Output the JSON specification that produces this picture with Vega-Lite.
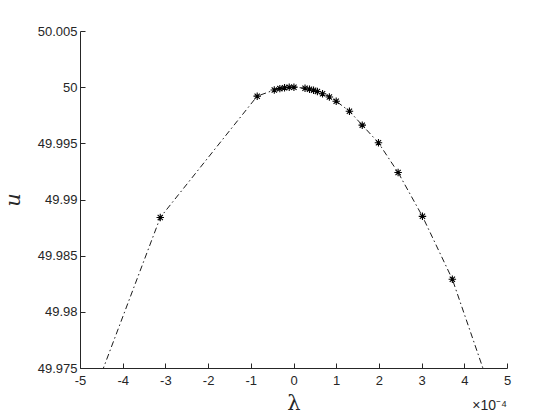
{
  "$schema": "https://vega.github.io/schema/vega-lite/v6.json",
  "width": 427,
  "height": 337,
  "autosize": {"type": "none"},
  "padding": {"left": 80, "top": 31, "right": 53, "bottom": 52},
  "background": "white",
  "config": {
    "view": {"stroke": null},
    "axis": {
      "grid": false,
      "domainColor": "#262626",
      "tickColor": "#262626",
      "labelColor": "#262626",
      "labelFont": "Liberation Sans",
      "labelFontSize": 13,
      "labelFlush": false,
      "labelOverlap": false,
      "titleColor": "#262626",
      "titleFont": "DejaVu Serif",
      "titleFontSize": 21,
      "titleFontWeight": "normal",
      "tickSize": -5,
      "domainWidth": 1,
      "tickWidth": 1
    }
  },
  "title": {
    "text": "×10⁻⁴",
    "orient": "bottom",
    "anchor": "end",
    "frame": "group",
    "font": "Liberation Sans",
    "fontSize": 14,
    "fontWeight": "normal",
    "color": "#262626",
    "dy": -18
  },
  "data": {
    "values": [
      {"lambda": -0.00046, "u": 49.9735},
      {"lambda": -0.000312, "u": 49.9884},
      {"lambda": -0.000085, "u": 49.9992},
      {"lambda": -0.000045, "u": 49.99975},
      {"lambda": -0.000032, "u": 49.99987},
      {"lambda": -0.000021, "u": 49.99995},
      {"lambda": -0.00001, "u": 49.99999},
      {"lambda": 0.000001, "u": 50.0},
      {"lambda": 0.000027, "u": 49.99991},
      {"lambda": 0.0000375, "u": 49.99982},
      {"lambda": 0.000047, "u": 49.99972},
      {"lambda": 0.000056, "u": 49.99961},
      {"lambda": 0.000068, "u": 49.99942},
      {"lambda": 0.000084, "u": 49.99912},
      {"lambda": 0.0001, "u": 49.99875},
      {"lambda": 0.000131, "u": 49.99786},
      {"lambda": 0.000161, "u": 49.99662},
      {"lambda": 0.000199, "u": 49.99505},
      {"lambda": 0.000245, "u": 49.9924},
      {"lambda": 0.000302, "u": 49.9885},
      {"lambda": 0.000372, "u": 49.9829},
      {"lambda": 0.0005, "u": 49.96875}
    ]
  },
  "encoding": {
    "x": {
      "field": "lambda",
      "type": "quantitative",
      "scale": {"domain": [-0.0005, 0.0005], "nice": false, "zero": false},
      "axis": {
        "values": [-0.0005, -0.0004, -0.0003, -0.0002, -0.0001, 0, 0.0001, 0.0002, 0.0003, 0.0004, 0.0005],
        "labelExpr": "'' + round(datum.value * 10000)",
        "labelPadding": 11,
        "title": "λ",
        "titlePadding": 5
      }
    },
    "y": {
      "field": "u",
      "type": "quantitative",
      "scale": {"domain": [49.975, 50.005], "nice": false, "zero": false},
      "axis": {
        "values": [49.975, 49.98, 49.985, 49.99, 49.995, 50, 50.005],
        "labelExpr": "'' + round(datum.value * 1000) / 1000",
        "labelPadding": 8,
        "title": "u",
        "titleFontStyle": "italic",
        "titlePadding": 14
      }
    }
  },
  "layer": [
    {
      "mark": {
        "type": "line",
        "clip": true,
        "color": "black",
        "strokeWidth": 0.9,
        "strokeDash": [6, 3, 1.5, 3]
      }
    },
    {
      "mark": {
        "type": "point",
        "clip": true,
        "shape": "M0,-1L0,1M-1,0L1,0M-0.7,-0.7L0.7,0.7M-0.7,0.7L0.7,-0.7",
        "filled": false,
        "stroke": "black",
        "strokeWidth": 1.1,
        "opacity": 1,
        "size": 56
      }
    }
  ]
}
